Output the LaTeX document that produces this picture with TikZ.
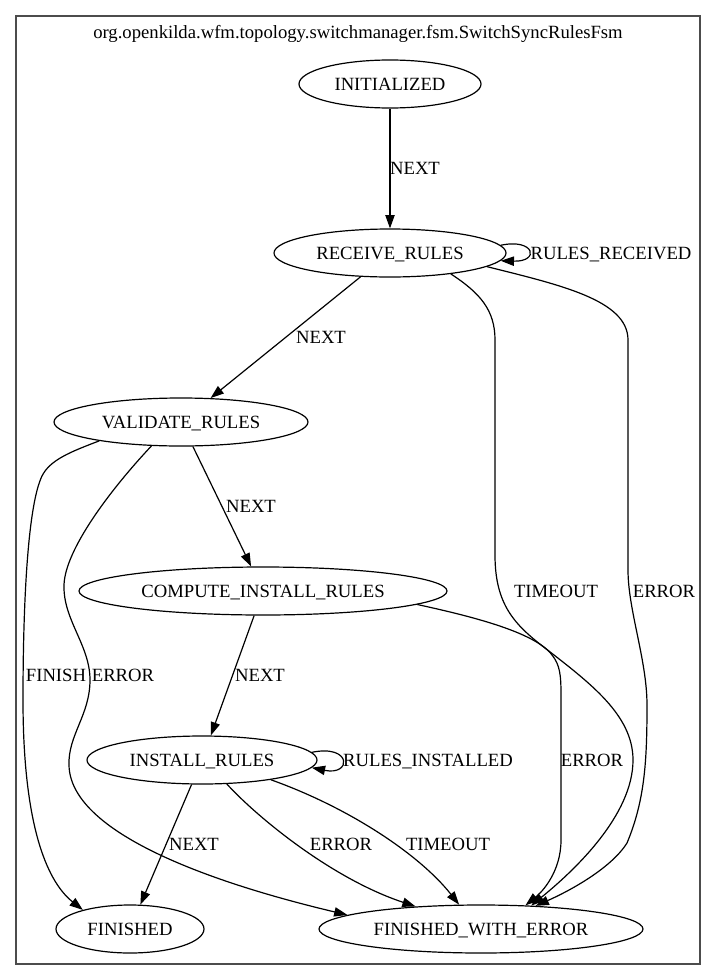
\documentclass[tikz,border=0pt]{standalone}
\usepackage{fontspec}
\setmainfont{Liberation Serif}
\usetikzlibrary{arrows.meta,shapes.geometric}
\begin{document}
\begin{tikzpicture}[x=1pt,y=-1pt,
  every node/.style={font=\fontsize{18.67}{22}\selectfont},
  st/.style={ellipse, draw, line width=1.2pt, inner sep=0pt, minimum height=48pt, text height=12.6pt, text depth=0pt},
  lbl/.style={inner sep=0pt, text height=12.6pt, text depth=0pt},
  edge/.style={line width=1.2pt, -{Triangle[length=13.3pt,width=9.3pt]}},
  frame/.style={draw=black!70, line width=2pt, inner sep=0pt}
]
\useasboundingbox (0,0) rectangle (717,980);
\node[frame, minimum width=684pt, minimum height=948pt] (cluster) at (358,490) {};
\node[lbl] (title) at (358,32) {org.openkilda.wfm.topology.switchmanager.fsm.SwitchSyncRulesFsm};

\node[st, minimum width=182pt] (init) at (390,84) {INITIALIZED};
\node[st, minimum width=232pt] (rr) at (390,253) {RECEIVE\_RULES};
\node[st, minimum width=254pt] (vr) at (181,422) {VALIDATE\_RULES};
\node[st, minimum width=368pt] (cir) at (263,591) {COMPUTE\_INSTALL\_RULES};
\node[st, minimum width=230pt] (ir) at (202,760) {INSTALL\_RULES};
\node[st, minimum width=148pt] (fin) at (130,929) {FINISHED};
\node[st, minimum width=324pt] (fwe) at (481,929) {FINISHED\_WITH\_ERROR};

% straight edges
\draw[edge] (init) -- (rr);
\draw[edge] (rr) -- (vr);
\draw[edge] (vr) -- (cir);
\draw[edge] (cir) -- (ir);
\draw[edge] (ir) -- (fin);

% self loops
\draw[edge] (rr.4) .. controls (535,238) and (540,262) .. (rr.-4);
\draw[edge] (ir.4) .. controls (352,744) and (352,776) .. (ir.-4);

% RECEIVE_RULES -> FWE TIMEOUT
\draw[edge] (rr.-19.7) .. controls (480,293) and (495,310) .. (495,340) -- (495,555)
  .. controls (495,605) and (515,625) .. (545,648)
  .. controls (590,683) and (633,715) .. (633,760)
  .. controls (633,815) and (575,870) .. (fwe.25.1);
% RECEIVE_RULES -> FWE ERROR
\draw[edge] (rr.-8.4) .. controls (560,285) and (628,300) .. (628,340) -- (628,570)
  .. controls (628,610) and (647,660) .. (647,705)
  .. controls (647,760) and (645,800) .. (627,843)
  .. controls (610,870) and (565,893) .. (fwe.23.1);
% COMPUTE -> FWE ERROR
\draw[edge] (cir.-5.9) .. controls (470,616) and (535,632) .. (552,655)
  .. controls (560,665) and (561,675) .. (561,695) -- (561,840)
  .. controls (561,872) and (542,892) .. (fwe.28.5);
% VALIDATE -> FINISHED
\draw[edge] (vr.-167) .. controls (70,452) and (50,460) .. (42,476)
  .. controls (28,505) and (23,600) .. (23,700)
  .. controls (23,820) and (45,880) .. (fin.158);
% VALIDATE -> FWE ERROR
\draw[edge] (vr.-141.3) .. controls (110,490) and (65,550) .. (64,585)
  .. controls (63,620) and (90,645) .. (90,680)
  .. controls (90,715) and (68,735) .. (69,765)
  .. controls (70,830) and (200,880) .. (fwe.174.1);
% INSTALL -> FWE ERROR
\draw[edge] (ir.-44.4) .. controls (255,815) and (330,878) .. (fwe.161.7);
% INSTALL -> FWE TIMEOUT
\draw[edge] (ir.-16.3) .. controls (350,808) and (420,855) .. (fwe.132.7);

% labels
\node[lbl] (l1) at (415,168) {NEXT};
\node[lbl] (l2) at (611,253) {RULES\_RECEIVED};
\node[lbl] (l3) at (321,337) {NEXT};
\node[lbl] (l4) at (556,591) {TIMEOUT};
\node[lbl] (l5) at (664,591) {ERROR};
\node[lbl] (l6) at (251,506) {NEXT};
\node[lbl] (l7) at (56,675) {FINISH};
\node[lbl] (l8) at (123,675) {ERROR};
\node[lbl] (l9) at (260,675) {NEXT};
\node[lbl] (l10) at (592,760) {ERROR};
\node[lbl] (l11) at (428,760) {RULES\_INSTALLED};
\node[lbl] (l12) at (194,844) {NEXT};
\node[lbl] (l13) at (341,844) {ERROR};
\node[lbl] (l14) at (448,844) {TIMEOUT};
\end{tikzpicture}
\end{document}
